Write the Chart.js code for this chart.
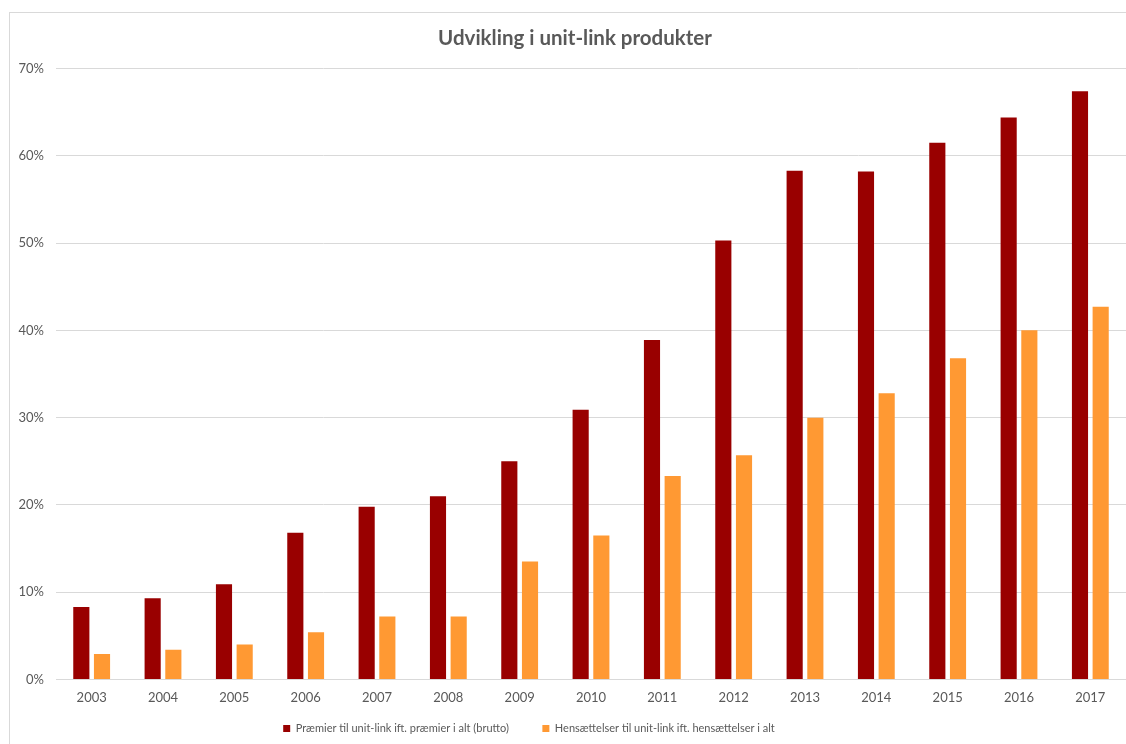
<!DOCTYPE html>
<html>
<head>
<meta charset="utf-8">
<script src="https://cdn.jsdelivr.net/npm/chart.js@4"></script>
<style>
  html, body { margin: 0; padding: 0; background: #fff; overflow: hidden; }
  #frame {
    position: absolute; left: 9px; top: 12px; width: 1200px; height: 800px;
    border-left: 1px solid #d9d9d9; border-top: 1px solid #d9d9d9;
  }
  #wrap { position: absolute; left: 0; top: 0; width: 1126px; height: 744px; }
</style>
</head>
<body>
<div id="frame"></div>
<div id="wrap"><canvas id="chart"></canvas></div>
<script>
// Andel af unit-link i præmier og hensættelser, 2003-2017
const years = ['2003', '2004', '2005', '2006', '2007', '2008', '2009', '2010',
  '2011', '2012', '2013', '2014', '2015', '2016', '2017'];
const praemier = [8.3, 9.3, 10.9, 16.8, 19.8, 21.0, 25.0, 30.9, 38.9, 50.3, 58.3, 58.2, 61.5, 64.4, 67.4];
const hensaettelser = [2.9, 3.4, 4.0, 5.4, 7.2, 7.2, 13.5, 16.5, 23.3, 25.7, 30.0, 32.8, 36.8, 40.0, 42.7];
const seriesLabels = [
  'Præmier til unit-link ift. præmier i alt (brutto)',
  'Hensættelser til unit-link ift. hensættelser i alt'
];

const textColor = '#595959';
const gridColor = '#d9d9d9';
Chart.defaults.font.family = 'Lato, "Open Sans", sans-serif';
Chart.defaults.color = textColor;

// the chart box is wider than the window: shift title and legend to its centre
const boxOffsets = {
  id: 'boxOffsets',
  afterLayout(chart) {
    chart.titleBlock.left = 24;
    chart.legend.left = 0;
    chart.legend.right = 1058;
  }
};

const defaultLabels = Chart.defaults.plugins.legend.labels.generateLabels;

new Chart(document.getElementById('chart'), {
  type: 'bar',
  data: {
    labels: years,
    datasets: [
      {
        label: seriesLabels[0],
        data: praemier,
        backgroundColor: '#990000',
        categoryPercentage: 0.58,
        barPercentage: 0.78
      },
      {
        label: seriesLabels[1],
        data: hensaettelser,
        backgroundColor: '#ff9933',
        categoryPercentage: 0.58,
        barPercentage: 0.78
      }
    ]
  },
  options: {
    responsive: true,
    maintainAspectRatio: false,
    animation: false,
    layout: { padding: 0 },
    plugins: {
      title: {
        display: true,
        text: 'Udvikling i unit-link produkter',
        color: textColor,
        font: { size: 20.5, weight: 'bold' },
        padding: { top: 26, bottom: 18 }
      },
      legend: {
        position: 'bottom',
        labels: {
          boxWidth: 7,
          boxHeight: 7,
          padding: 6,
          color: textColor,
          font: { size: 11 },
          // wider gap between the two entries
          generateLabels: chart => defaultLabels(chart).map((item, i) =>
            i === 0 ? { ...item, text: item.text + '\u2002\u2002\u2002\u2002\u2002' } : item)
        }
      },
      tooltip: { enabled: false }
    },
    scales: {
      x: {
        grid: { display: false, drawTicks: false },
        border: { color: gridColor },
        ticks: { padding: 11, font: { size: 13 }, color: textColor }
      },
      y: {
        min: 0,
        max: 70,
        afterFit: s => { s.width = 56; },
        grid: { color: gridColor, drawTicks: false },
        border: { display: false },
        ticks: {
          stepSize: 10,
          padding: 12,
          font: { size: 13 },
          color: textColor,
          callback: v => v + '%'
        }
      }
    }
  },
  plugins: [boxOffsets]
});
</script>
</body>
</html>
